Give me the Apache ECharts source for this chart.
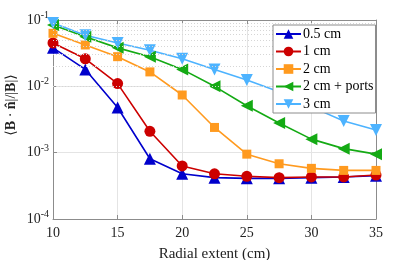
<!DOCTYPE html>
<html><head><meta charset="utf-8">
<script src="https://cdn.jsdelivr.net/npm/echarts@6/dist/echarts.min.js"></script>
<style>html,body{margin:0;padding:0;background:#fff}#c{width:415px;height:260px}</style>
</head><body><div id="c"></div>
<script>
var xs = [10,12.5,15,17.5,20,22.5,25,27.5,30,32.5,35];
var s05 = [0.038,0.018,0.0048,0.00081,0.00048,0.00042,0.00041,0.00041,0.00042,0.00043,0.00045];
var s1 = [0.045,0.026,0.011,0.0021,0.00063,0.00048,0.00044,0.00042,0.00043,0.00043,0.00046];
var s2 = [0.063,0.042,0.028,0.0165,0.0074,0.0024,0.00095,0.00068,0.00058,0.00054,0.00054];
var s2p = [0.084,0.056,0.038,0.028,0.018,0.010,0.0051,0.0028,0.0016,0.00115,0.00095];
var s3 = [0.09,0.059,0.045,0.035,0.026,0.018,0.0125,0.0083,0.0049,0.0030,0.0022];
var names = ['0.5 cm','1 cm','2 cm','2 cm + ports','3 cm'];
var yTitle = '⟨{bb|B} · {bb|n̂}|/|{bb|B}|⟩';
var threshold = 0.002;
var minorVals = [];
[1e-4,1e-3,1e-2].forEach(function(d){for(var k=2;k<=9;k++) minorVals.push(+(d*k).toPrecision(3));});

var FONT = '"Liberation Serif","DejaVu Serif",serif';
function pairs(ys){return xs.map(function(x,i){return [x,ys[i]];});}
function mk(name, ys, color, symbol, rot, size){
  return {name:name,type:'line',data:pairs(ys),symbol:symbol,symbolRotate:rot,symbolSize:size,
    lineStyle:{color:color,width:1.6},itemStyle:{color:color},z:3};
}
var chart = echarts.init(document.getElementById('c'));
var expFmt = function(v){var e=Math.round(Math.log10(v));return '{b|10}{s|'+e+'}';};
var labRich = {b:{fontFamily:FONT,fontSize:14,color:'#222'},s:{fontFamily:FONT,fontSize:10,color:'#222',padding:[0,0,9,0]}};
chart.setOption({
  animation:false,
  grid:{left:53,right:39,top:20,bottom:41,containLabel:false,outerBoundsMode:'none'},
  graphic:[{type:'text',x:11,y:105,rotation:Math.PI/2,silent:true,
    style:{text:yTitle,fontFamily:FONT,fontSize:14,fill:'#222',align:'center',verticalAlign:'middle',
      rich:{bb:{fontFamily:FONT,fontSize:14,fontWeight:'bold',fill:'#222',color:'#222'}}}}],
  legend:{data:names,orient:'vertical',left:273,top:25,padding:[2,2,2,2],itemWidth:25,itemHeight:12,itemGap:3.5,z:20,
    backgroundColor:'#fff',borderColor:'#8c8c8c',borderWidth:1,
    textStyle:{fontFamily:FONT,fontSize:14,color:'#000',padding:[0,0,0,-3]}},
  xAxis:[{type:'value',min:10,max:35,interval:5,
    axisLine:{lineStyle:{color:'#8c8c8c',width:1}},
    axisTick:{inside:true,length:4,lineStyle:{color:'#8c8c8c'}},
    axisLabel:{fontFamily:FONT,fontSize:14,color:'#222',margin:7},
    splitLine:{show:true,lineStyle:{color:'#e4e4e4',width:1}},
    name:'Radial extent (cm)',nameLocation:'middle',nameGap:28,
    nameTextStyle:{fontFamily:FONT,fontSize:15,color:'#222'}},
   {type:'value',min:10,max:35,interval:5,position:'top',
    axisLine:{lineStyle:{color:'#8c8c8c'}},axisTick:{inside:true,length:4,lineStyle:{color:'#8c8c8c'}},
    axisLabel:{show:false},splitLine:{show:false}}],
  yAxis:[{type:'log',logBase:10,min:1e-4,max:1e-1,
    axisLine:{show:true,lineStyle:{color:'#8c8c8c',width:1}},
    axisTick:{show:true,inside:true,length:4,lineStyle:{color:'#8c8c8c'}},
    axisLabel:{formatter:expFmt,rich:labRich,margin:4},
    splitLine:{show:true,lineStyle:{color:'#e4e4e4',width:1}}},
   {type:'log',logBase:10,min:1e-4,max:1e-1,position:'right',
    axisLine:{show:true,lineStyle:{color:'#8c8c8c'}},
    axisTick:{show:true,inside:true,length:4,lineStyle:{color:'#8c8c8c'}},
    axisLabel:{show:false},splitLine:{show:false}}],
  series:[
    {name:'grid',type:'line',data:[],z:1,silent:true,
      markLine:{silent:true,symbol:'none',label:{show:false},animation:false,
        lineStyle:{color:'#d6d6d6',type:[1,2],width:1},
        data:minorVals.map(function(v){return {yAxis:v};})}},
    {name:'thr',type:'line',data:[],z:2,silent:true,
      markLine:{silent:true,symbol:'none',label:{show:false},animation:false,
        lineStyle:{color:'#333',type:[6,4],width:1},data:[{yAxis:threshold}]}},
    mk(names[0],s05,'#0000cc','triangle',0,12),
    mk(names[1],s1,'#cc0000','circle',0,11),
    mk(names[2],s2,'#ff9a1f','rect',0,9),
    mk(names[3],s2p,'#14aa14','triangle',90,12),
    mk(names[4],s3,'#4db3ff','triangle',180,12)
  ]
});
</script></body></html>
